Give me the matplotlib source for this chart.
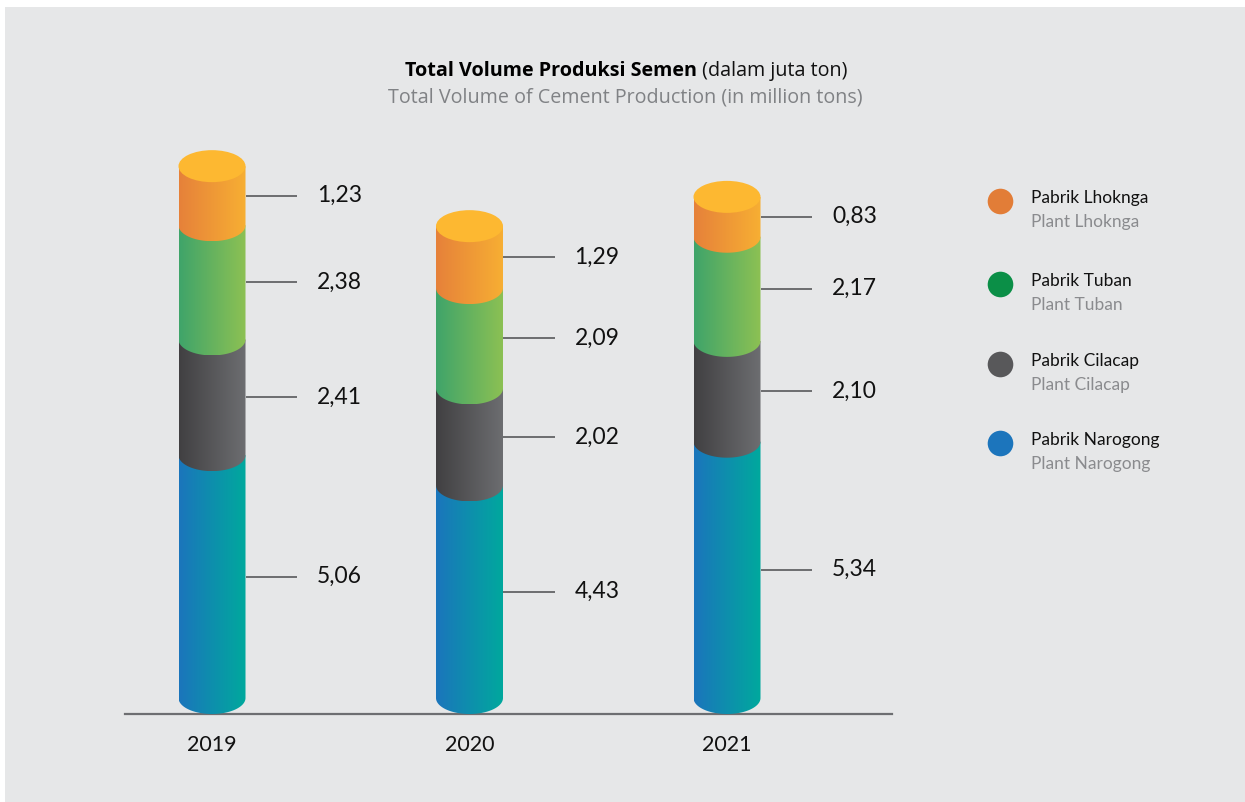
import numpy as np
import matplotlib
matplotlib.use('Agg')
import matplotlib.pyplot as plt
from matplotlib.path import Path
from matplotlib.patches import PathPatch, Ellipse, Rectangle
from matplotlib.colors import LinearSegmentedColormap

# ---------------- data ----------------
years = ['2019', '2020', '2021']
narogong = [5.06, 4.43, 5.34]
cilacap = [2.41, 2.02, 2.10]
tuban = [2.38, 2.09, 2.17]
lhoknga = [1.23, 1.29, 0.83]

names_id = ['Pabrik Narogong', 'Pabrik Cilacap', 'Pabrik Tuban', 'Pabrik Lhoknga']
names_en = ['Plant Narogong', 'Plant Cilacap', 'Plant Tuban', 'Plant Lhoknga']

title_bold = 'Total Volume Produksi Semen'
title_reg = ' (dalam juta ton)'
subtitle = 'Total Volume of Cement Production (in million tons)'

# ---------------- styles ----------------
grad_colors = [('#1b75bc', '#00a99d'),   # Narogong
               ('#414042', '#6d6e71'),   # Cilacap
               ('#3fa46a', '#8dc153'),   # Tuban
               ('#e6813a', '#f7af33')]   # Lhoknga
top_color = '#fdb831'
legend_colors = ['#1c75bc', '#58585a', '#0b8f47', '#e27d37']
FONT = 'Lato'
TFONT = 'Open Sans'

W, H = 1245, 802
fig = plt.figure(figsize=(W / 100, H / 100), dpi=100)
fig.patch.set_facecolor('white')
fig.add_artist(Rectangle((5 / W, 0), 1 - 5 / W, 1 - 7 / H, transform=fig.transFigure,
                         facecolor='#e6e7e8', edgecolor='none', zorder=0))

ax = fig.add_axes([0, 0, 1, 1])
ax.set_facecolor('none')
ax.axis('off')

X0, DX = 212.0, 257.5   # px of first category, px between categories
Y0, S = 698.0, 48.0     # px of baseline, px per million tons
xlim = (-X0 / DX, (W - X0) / DX)
ylim = (-(H - Y0) / S, Y0 / S)
hw = 33.5 / DX
b = 16.0 / S

series = [narogong, cilacap, tuban, lhoknga]


def segment(x, y0, y1, cl, cr, z):
    t = np.linspace(np.pi, 2 * np.pi, 80)
    xs = np.concatenate([[x - hw], x + hw * np.cos(t), [x + hw], [x - hw]])
    ys = np.concatenate([[y1], y0 + b * np.sin(t), [y1], [y1]])
    path = Path(np.column_stack([xs, ys]), closed=True)
    patch = PathPatch(path, facecolor='none', edgecolor='none', transform=ax.transData)
    ax.add_patch(patch)
    cmap = LinearSegmentedColormap.from_list('g', [cl, cr])
    grad = np.linspace(0, 1, 256).reshape(1, -1)
    im = ax.imshow(grad, cmap=cmap, extent=[x - hw, x + hw, y0 - b, y1], aspect='auto',
                   origin='lower', zorder=z, interpolation='bilinear')
    im.set_clip_path(patch)


lead_x0 = hw
lead_x1 = (297 - 212) / DX
lab_x = (317 - 212) / DX

for i, yr in enumerate(years):
    bottom = 0.0
    for k, s in enumerate(series):
        v = s[i]
        segment(i, bottom, bottom + v, grad_colors[k][0], grad_colors[k][1], 2 + k)
        mid = bottom + v / 2
        ax.plot([i + lead_x0, i + lead_x1], [mid, mid], color='#58595b', lw=1.2, zorder=1,
                solid_capstyle='butt')
        ax.text(i + lab_x, mid, f'{v:.2f}'.replace('.', ','), ha='left', va='center',
                fontsize=16.5, family=FONT, color='#111111')
        bottom += v
    ax.add_patch(Ellipse((i, bottom), 2 * hw, 2 * b, facecolor=top_color, edgecolor='none', zorder=10))
    ax.text(i, -(745 - Y0) / S, yr, ha='center', va='center', fontsize=15.5, family=FONT,
            color='#111111')

# baseline
ax.plot([(125 - X0) / DX, (892 - X0) / DX], [-b, -b], color='#6d6e71', lw=1.6, zorder=1)

ax.set_xlim(*xlim)
ax.set_ylim(*ylim)

# ---------------- legend ----------------
leg_y = [443, 364, 284, 201]   # px, for Narogong, Cilacap, Tuban, Lhoknga
for k in range(4):
    fy = 1 - leg_y[k] / H
    ax.scatter([1000 / W], [fy], s=340, color=legend_colors[k], transform=fig.transFigure,
               zorder=5, linewidths=0, clip_on=False)
    fig.text(1031 / W, fy + 3 / H, names_id[k], ha='left', va='center', fontsize=12.5,
             family=FONT, color='#111111')
    fig.text(1031 / W, fy - 21 / H, names_en[k], ha='left', va='center', fontsize=12.5,
             family=FONT, color='#8a8b8e')

# ---------------- title ----------------
renderer = fig.canvas.get_renderer()
t1 = fig.text(0, 1 - 71 / H, title_bold, ha='left', va='center', fontsize=14.2,
              family=TFONT, fontweight='bold', color='#000000')
t2 = fig.text(0, 1 - 71 / H, title_reg, ha='left', va='center', fontsize=14.2,
              family=TFONT, color='#111111')
w1 = t1.get_window_extent(renderer).width
w2 = t2.get_window_extent(renderer).width
start = 626 - (w1 + w2) / 2
t1.set_x(start / W)
t2.set_x((start + w1) / W)
fig.text(625 / W, 1 - 97 / H, subtitle, ha='center', va='center', fontsize=14.2,
         family=TFONT, color='#808285')

fig.savefig('out.png', dpi=100, facecolor=fig.get_facecolor())
